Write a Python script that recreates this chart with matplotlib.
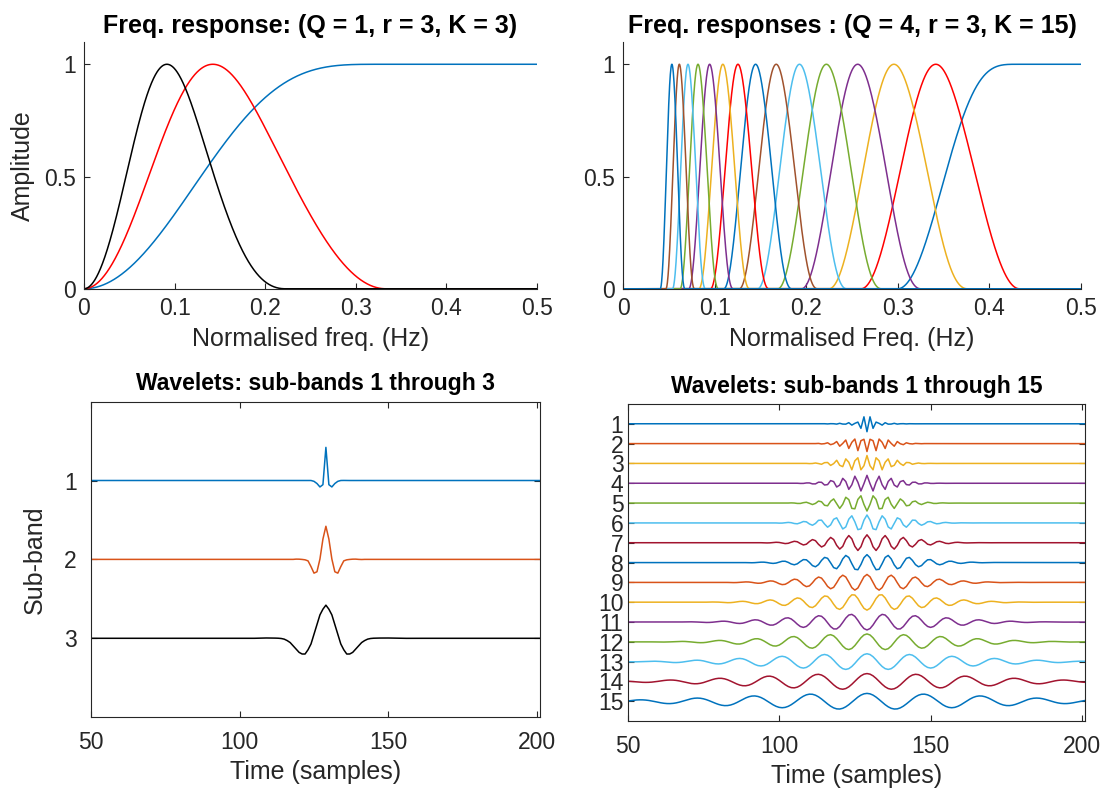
import numpy as np
import matplotlib.pyplot as plt

plt.rcParams['font.family'] = ['Liberation Sans', 'DejaVu Sans']

# high-pass edge of every sub-band (normalised Hz):
# where the edge leaves 0 and where it reaches 1
edge_start_k3 = [0.0, 0.0, 0.0]
edge_end_k3 = [0.333, 0.222, 0.148]

edge_start_k15 = [0.300, 0.260, 0.225, 0.195, 0.169, 0.147, 0.127, 0.110,
                  0.0955, 0.0828, 0.0717, 0.0622, 0.0539, 0.0467, 0.0405]
edge_end_k15 = [0.433, 0.376, 0.325, 0.282, 0.244, 0.212, 0.184, 0.159,
                0.138, 0.120, 0.104, 0.0898, 0.0778, 0.0674, 0.0585]

# direction of the centre lobe of each wavelet (+1 = up)
centre_sign_k3 = [1, 1, 1]
centre_sign_k15 = [-1, -1, 1, 1, -1, 1, 1, 1, 1, -1, -1, 1, 1, 1, 1]

# how much wider each wavelet looks in the bottom plots than its response gives
stretch_k3 = [1.15, 1.2, 1.7]
stretch_k15 = [1.0] * 15

top_colors_k3 = ['#0072BD', '#FF0000', '#000000']
bot_colors_k3 = ['#0072BD', '#D95319', '#000000']
top_cycle = ['#0072BD', '#FF0000', '#EDB120', '#7E2F8E', '#77AC30', '#4DBEEE', '#A0522D']
bot_cycle = ['#0072BD', '#D95319', '#EDB120', '#7E2F8E', '#77AC30', '#4DBEEE', '#A2142F']

N = 256          # signal length used for the wavelets
AX_COL = '#262626'


def theta(w):
    return 0.5 * (1 + np.cos(w)) * np.sqrt(2 - np.cos(w))


def edge(f, a, b):
    x = np.clip((f - a) / (b - a), 0, 1)
    return theta(np.pi * (1 - x))


def responses(starts, ends, f):
    out = []
    low = np.ones_like(f)
    for a, b in zip(starts, ends):
        hi = edge(f, a, b)
        band = hi * low
        out.append(band / band.max())
        low = low * np.sqrt(np.clip(1 - hi ** 2, 0, 1))
    return out


def wavelets(starts, ends, signs, stretch, power, amp):
    fk = np.arange(N // 2 + 1) / N
    t = np.arange(1, N + 1)
    c = N // 2 + 1
    out = []
    for H, s, k in zip(responses(starts, ends, fk), signs, stretch):
        w = np.roll(np.fft.irfft(H ** power, n=N), N // 2)
        w = np.interp((t - c) / k + c, t, w)
        out.append(s * w / np.abs(w).max() * amp)
    return out


def style(ax, box):
    ax.tick_params(direction='in', length=4, width=0.8, colors=AX_COL,
                   labelsize=16.5, top=box, right=box, pad=6)
    for name, sp in ax.spines.items():
        sp.set_color(AX_COL)
        sp.set_linewidth(0.8)
        if not box and name in ('top', 'right'):
            sp.set_visible(False)


fig = plt.figure(figsize=(11.05, 7.89), dpi=100)

f = np.linspace(0, 0.5, 2001)
t = np.arange(1, N + 1)

# top-left
ax1 = fig.add_axes([0.076, 0.634, 0.410, 0.313])
for H, c in zip(responses(edge_start_k3, edge_end_k3, f), top_colors_k3):
    ax1.plot(f, H, color=c, lw=1.1)
ax1.set_xlim(0, 0.5)
ax1.set_ylim(0, 1.1)
ax1.set_xticks([0, 0.1, 0.2, 0.3, 0.4, 0.5], ['0', '0.1', '0.2', '0.3', '0.4', '0.5'])
ax1.set_yticks([0, 0.5, 1], ['0', '0.5', '1'])
style(ax1, False)
ax1.set_xlabel('Normalised freq. (Hz)', fontsize=18, color=AX_COL, labelpad=5)
ax1.set_ylabel('Amplitude', fontsize=18, color=AX_COL, labelpad=6)
ax1.set_title('Freq. response: (Q = 1, r = 3, K = 3)', fontsize=18, fontweight='bold', pad=6)

# top-right
ax2 = fig.add_axes([0.564, 0.634, 0.414, 0.313])
for i, H in enumerate(responses(edge_start_k15, edge_end_k15, f)):
    ax2.plot(f, H, color=top_cycle[i % 7], lw=1.1)
ax2.set_xlim(0, 0.5)
ax2.set_ylim(0, 1.1)
ax2.set_xticks([0, 0.1, 0.2, 0.3, 0.4, 0.5], ['0', '0.1', '0.2', '0.3', '0.4', '0.5'])
ax2.set_yticks([0, 0.5, 1], ['0', '0.5', '1'])
style(ax2, False)
ax2.set_xlabel('Normalised Freq. (Hz)', fontsize=18, color=AX_COL, labelpad=5)
ax2.set_title('Freq. responses : (Q = 4, r = 3, K = 15)', fontsize=18, fontweight='bold', pad=6)

# bottom-left
ax3 = fig.add_axes([0.082, 0.091, 0.407, 0.400])
wav3 = wavelets(edge_start_k3, edge_end_k3, centre_sign_k3, stretch_k3, 1, 0.42)
for k, (w, c) in enumerate(zip(wav3, bot_colors_k3)):
    ax3.plot(t, k + 1 - w, color=c, lw=1.1)
ax3.set_xlim(50, 201)
ax3.set_ylim(4, 0)
ax3.set_xticks([50, 100, 150, 200])
ax3.set_yticks([1, 2, 3])
style(ax3, True)
ax3.tick_params(axis='x', pad=10)
ax3.tick_params(axis='y', pad=10)
ax3.set_xlabel('Time (samples)', fontsize=18, color=AX_COL, labelpad=4)
ax3.set_ylabel('Sub-band', fontsize=18, color=AX_COL, labelpad=12)
ax3.set_title('Wavelets: sub-bands 1 through 3', fontsize=16.5, fontweight='bold', pad=8)

# bottom-right
ax4 = fig.add_axes([0.568, 0.086, 0.414, 0.402])
wav15 = wavelets(edge_start_k15, edge_end_k15, centre_sign_k15, stretch_k15, 2, 0.4)
for k, w in enumerate(wav15):
    ax4.plot(t, k + 1 - w, color=bot_cycle[k % 7], lw=1.1)
ax4.set_xlim(50, 201)
ax4.set_ylim(16, 0)
ax4.set_xticks([50, 100, 150, 200])
ax4.set_yticks(range(1, 16))
style(ax4, True)
ax4.tick_params(axis='x', pad=10)
ax4.tick_params(axis='y', pad=3)
ax4.set_xlabel('Time (samples)', fontsize=18, color=AX_COL, labelpad=4)
ax4.set_title('Wavelets: sub-bands 1 through 15', fontsize=16.5, fontweight='bold', pad=8)

fig.savefig('out.png', dpi=100)
